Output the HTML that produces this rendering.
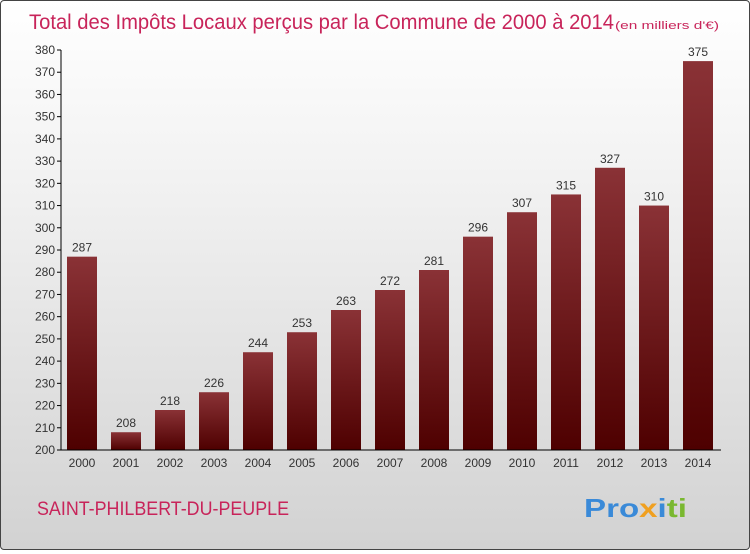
<!DOCTYPE html>
<html><head><meta charset="utf-8"><style>
body{margin:0;width:750px;height:550px;overflow:hidden}
#c{position:absolute;left:0;top:0;width:748px;height:548px;border:1px solid #444;border-radius:4px;background:linear-gradient(#ffffff,#f3f3f3 30%,#d2d2d2);font-family:"Liberation Sans",sans-serif}
</style></head><body>
<div id="c">
<svg width="748" height="548">
<defs><linearGradient id="g" x1="0" y1="0" x2="0" y2="1"><stop offset="0" stop-color="#8a3236"/><stop offset="1" stop-color="#4e0000"/></linearGradient></defs>
<text x="28" y="28" font-size="21" fill="#c8245a" textLength="585" lengthAdjust="spacingAndGlyphs">Total des Impôts Locaux perçus par la Commune de 2000 à 2014</text>
<text x="614" y="28" font-size="11" fill="#c8245a" textLength="104" lengthAdjust="spacingAndGlyphs">(en milliers d'€)</text>
<g id="plot"></g>
<text x="36" y="514" font-size="19" fill="#c8245a" textLength="252" lengthAdjust="spacingAndGlyphs">SAINT-PHILBERT-DU-PEUPLE</text>
<text x="583" y="516" font-size="26" font-weight="bold" textLength="103" lengthAdjust="spacingAndGlyphs"><tspan fill="#3a8ad8">Pro</tspan><tspan fill="#f0a020">x</tspan><tspan fill="#3a8ad8">i</tspan><tspan fill="#7ab830">ti</tspan></text>
</svg></div>
<script>
const years=["2000","2001","2002","2003","2004","2005","2006","2007","2008","2009","2010","2011","2012","2013","2014"];
const values=[287,208,218,226,244,253,263,272,281,296,307,315,327,310,375];
const ticks=[200,210,220,230,240,250,260,270,280,290,300,310,320,330,340,350,360,370,380];
const NS="http://www.w3.org/2000/svg",p=document.getElementById('plot');
const y=v=>449-(v-200)*(400/180), x=i=>81+i*44;
function mk(t,a,txt){const e=document.createElementNS(NS,t);for(const k in a)e.setAttribute(k,a[k]);if(txt!==undefined)e.textContent=txt;p.appendChild(e);return e;}
ticks.forEach(t=>{
 const l=mk('line',{x1:56,x2:60,y1:y(t),y2:y(t),stroke:'#000'});
 
 
 const s=mk('text',{x:54,y:y(t)+4,'font-size':12,'text-anchor':'end',fill:'#333'},t);
 
 
});
values.forEach((v,i)=>{
 const r=mk('rect',{x:x(i)-15,y:y(v),width:30,height:y(200)-y(v),fill:'url(#g)'});
 
 
 const t=mk('text',{x:x(i),y:y(v)-5,'font-size':12,'text-anchor':'middle',fill:'#333'},v);
 
 
 const xl=mk('text',{x:x(i),y:466,'font-size':12,'text-anchor':'middle',fill:'#333'},years[i]);
 
 
});
const ya=mk('line',{x1:60,x2:60,y1:y(380),y2:y(200),stroke:'#000'});


const xa=mk('line',{x1:60,x2:720,y1:y(200),y2:y(200),stroke:'#000'});


</script>
</body></html>
